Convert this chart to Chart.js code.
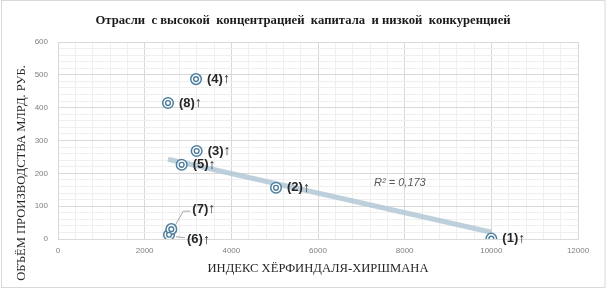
<!DOCTYPE html>
<html>
<head>
<meta charset="utf-8">
<script src="https://cdn.jsdelivr.net/npm/chart.js@4.4.1/dist/chart.umd.min.js"></script>
<style>
  html, body { margin: 0; padding: 0; background: #fff; }
  #wrap { width: 607px; height: 292px; }
</style>
</head>
<body>
<div id="wrap"><canvas id="chart" width="607" height="292"></canvas></div>
<script>
// HHI index and output volume (bln rub) per industry
const pointNames = ['(1)', '(2)', '(3)', '(4)', '(5)', '(6)', '(7)', '(8)'];
const hhi = [10000, 5031, 3200, 3185, 2854, 2562, 2615, 2538];
const output = [1, 156, 268, 487, 226, 13, 30, 414];
const rSquaredText = 'R² = 0,173';

const chartTitle = 'Отрасли  с высокой  концентрацией  капитала  и низкой  конкуренцией';
const xTitle = 'ИНДЕКС ХЁРФИНДАЛЯ-ХИРШМАНА';
const yTitle = 'ОБЪЁМ ПРОИЗВОДСТВА МЛРД. РУБ.';

const xMax = 12000, xMajor = 2000, xMinor = 400;
const yMax = 600, yMajor = 100, yMinor = 20;

const points = hhi.map((x, i) => ({ x: x, y: output[i] }));

// least squares trend line
function linearFit(xs, ys) {
    const n = xs.length;
    const mx = xs.reduce((a, b) => a + b, 0) / n;
    const my = ys.reduce((a, b) => a + b, 0) / n;
    let sxy = 0, sxx = 0;
    for (let i = 0; i < n; i++) {
        sxy += (xs[i] - mx) * (ys[i] - my);
        sxx += (xs[i] - mx) * (xs[i] - mx);
    }
    const slope = sxy / sxx;
    return { slope: slope, intercept: my - slope * mx };
}
const fit = linearFit(hhi, output);
const xLo = Math.min(...hhi), xHi = Math.max(...hhi);
const trend = [
    { x: xLo, y: fit.intercept + fit.slope * xLo },
    { x: xHi, y: fit.intercept + fit.slope * xHi }
];

// label placement relative to the marker, in pixels
const labelShift = { '(6)': [18, 5], '(7)': [21, -20] };

const markerColor = '#4f7f9f';
const gridMajor = '#d9d9d9';
const gridMinor = '#efefef';

const decorPlugin = {
    id: 'decor',
    beforeDraw(chart) {
        const ctx = chart.ctx;
        ctx.save();
        ctx.fillStyle = '#fff';
        ctx.fillRect(0, 0, chart.width, chart.height);
        ctx.restore();
    },
    afterDatasetsDraw(chart) {
        const ctx = chart.ctx;
        const xs = chart.scales.x, ys = chart.scales.y;
        ctx.save();

        // point labels
        ctx.textBaseline = 'middle';
        ctx.textAlign = 'left';
        pointNames.forEach((name, i) => {
            const px = xs.getPixelForValue(hhi[i]);
            const py = ys.getPixelForValue(output[i]);
            const sh = labelShift[name] || [11, 0];
            const lx = px + sh[0], ly = py + sh[1];
            if (labelShift[name]) {
                ctx.strokeStyle = '#a6a6a6';
                ctx.lineWidth = 1;
                ctx.beginPath();
                if (sh[1] < 0) {
                    ctx.moveTo(px + 4, py - 4);
                    ctx.lineTo(lx - 9, ly + 2);
                    ctx.lineTo(lx - 2, ly + 2);
                } else {
                    ctx.moveTo(px + 7, py + 2);
                    ctx.lineTo(lx - 2, py + 3);
                }
                ctx.stroke();
            }
            ctx.fillStyle = '#262626';
            ctx.font = 'bold 13px "Liberation Sans", Arial, sans-serif';
            ctx.fillText(name, lx, ly);
            const w = ctx.measureText(name).width;
            ctx.font = '14px "Liberation Sans", Arial, sans-serif';
            ctx.fillText('↑', lx + w, ly);
        });

        // R² annotation
        ctx.font = 'italic 11px "Liberation Sans", Arial, sans-serif';
        ctx.fillStyle = '#595959';
        ctx.textAlign = 'center';
        ctx.fillText(rSquaredText, xs.getPixelForValue(7890), ys.getPixelForValue(171));

        // titles
        ctx.fillStyle = '#1a1a1a';
        ctx.font = 'bold 12.7px "Liberation Serif", "Times New Roman", serif';
        ctx.fillText(chartTitle, 303, 21);

        ctx.font = '12.6px "Liberation Serif", "Times New Roman", serif';
        ctx.fillStyle = '#262626';
        ctx.fillText(xTitle, (xs.left + xs.right) / 2, 269);

        ctx.translate(22, 173);
        ctx.rotate(-Math.PI / 2);
        ctx.fillText(yTitle, 0, 0);
        ctx.restore();

        // outer frame
        ctx.save();
        ctx.strokeStyle = '#d9d9d9';
        ctx.lineWidth = 1;
        ctx.strokeRect(1.5, 0.5, 603.5, 287);
        ctx.restore();
    }
};

new Chart(document.getElementById('chart'), {
    type: 'scatter',
    data: {
        datasets: [
            {
                type: 'line',
                data: trend,
                borderColor: 'rgba(172, 196, 210, 0.8)',
                borderWidth: 5,
                pointRadius: 0,
                fill: false,
                order: 3
            },
            {
                data: points,
                pointStyle: 'circle',
                pointRadius: 5.3,
                borderColor: markerColor,
                borderWidth: 1.5,
                backgroundColor: '#ffffff',
                order: 2
            },
            {
                data: points,
                pointStyle: 'circle',
                pointRadius: 2.4,
                borderColor: markerColor,
                borderWidth: 1.4,
                backgroundColor: '#ffffff',
                order: 1
            }
        ]
    },
    options: {
        responsive: false,
        animation: false,
        layout: { padding: { top: 42, right: 29, left: 0, bottom: 0 } },
        plugins: {
            legend: { display: false },
            title: { display: false },
            tooltip: { enabled: false }
        },
        scales: {
            x: {
                type: 'linear',
                min: 0,
                max: xMax,
                afterFit(scale) { scale.height = 53; },
                border: { color: gridMajor },
                grid: {
                    drawTicks: false,
                    color: c => (c.tick.value % xMajor === 0 ? gridMajor : gridMinor)
                },
                ticks: {
                    stepSize: xMinor,
                    maxTicksLimit: 100,
                    autoSkip: false,
                    maxRotation: 0,
                    padding: 7,
                    color: '#7f7f7f',
                    font: { family: '"Liberation Sans", Arial, sans-serif', size: 8 },
                    callback: v => (v % xMajor === 0 ? String(v) : '')
                }
            },
            y: {
                type: 'linear',
                min: 0,
                max: yMax,
                afterFit(scale) { scale.width = 58; },
                border: { color: gridMajor },
                grid: {
                    drawTicks: false,
                    color: c => (c.tick.value % yMajor === 0 ? gridMajor : gridMinor)
                },
                ticks: {
                    stepSize: yMinor,
                    maxTicksLimit: 100,
                    autoSkip: false,
                    padding: 10,
                    color: '#7f7f7f',
                    font: { family: '"Liberation Sans", Arial, sans-serif', size: 8 },
                    callback: v => (v % yMajor === 0 ? String(v) : '')
                }
            }
        }
    },
    plugins: [decorPlugin]
});
</script>
</body>
</html>
